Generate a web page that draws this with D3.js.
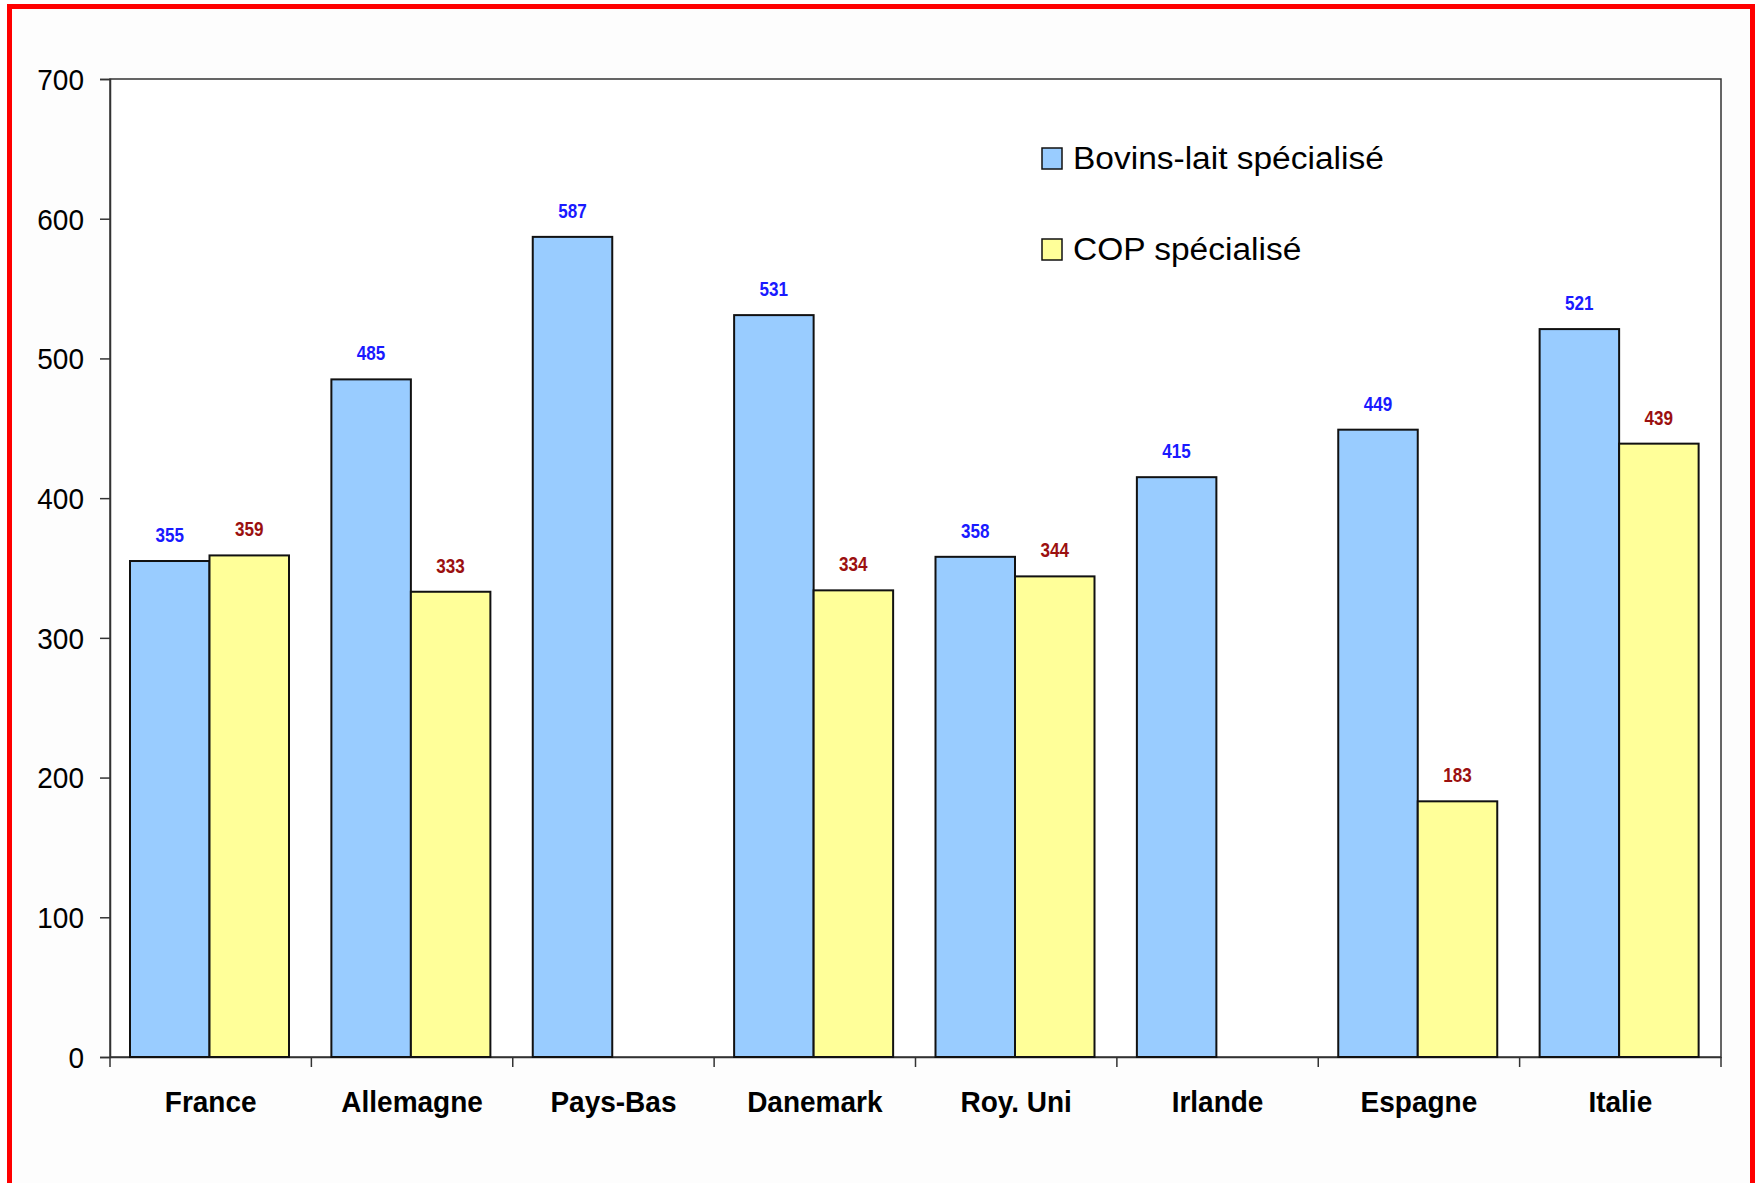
<!DOCTYPE html>
<html><head><meta charset="utf-8">
<script src="https://cdn.jsdelivr.net/npm/d3@7"></script>
<style>
html,body{margin:0;padding:0;background:#fff;}
svg{display:block;}
</style></head>
<body>
<svg id="chart" width="1759" height="1183"></svg>
<script>
const categories = ["France","Allemagne","Pays-Bas","Danemark","Roy. Uni","Irlande","Espagne","Italie"];
const seriesNames = ["Bovins-lait spécialisé","COP spécialisé"];
const bovinsLait = [355,485,587,531,358,415,449,521];
const copSpecialise = [359,333,null,334,344,null,183,439];
const yTicks = [0,100,200,300,400,500,600,700];

const fills = ["#99CCFF","#FFFF99"];
const labelColors = ["#1a1aff","#9b1010"];
const series = [bovinsLait, copSpecialise];

const svg = d3.select("#chart");
const W = 1759, H = 1183;
const font = "'Liberation Sans', Arial, sans-serif";

// background + red frame
svg.append("rect").attr("x",0).attr("y",0).attr("width",W).attr("height",H).attr("fill","#ffffff");
svg.append("rect").attr("x",9.5).attr("y",6.5).attr("width",1743).attr("height",1250)
  .attr("fill","#fdfdfd").attr("stroke","#ff0000").attr("stroke-width",5);

const plot = {left:110, right:1721, top:79, bottom:1057};

svg.append("rect").attr("x",plot.left).attr("y",plot.top)
  .attr("width",plot.right-plot.left).attr("height",plot.bottom-plot.top)
  .attr("fill","#ffffff").attr("stroke","#333").attr("stroke-width",1.5);

const x0 = d3.scaleBand().domain(categories).range([plot.left, plot.right]).padding(0);
const x1 = d3.scaleBand().domain([0,1]).range([20, 179]).padding(0);
const y = d3.scaleLinear().domain([0,700]).range([plot.bottom, plot.top]);

// Y axis
const yAxis = d3.axisLeft(y).tickValues(yTicks).tickSize(10).tickPadding(16).tickFormat(d3.format("d"));
const gy = svg.append("g").attr("transform",`translate(${plot.left},0)`).call(yAxis);
gy.select(".domain").attr("stroke","#333").attr("stroke-width",1.5);
gy.selectAll(".tick line").attr("stroke","#333").attr("stroke-width",1.5);
gy.selectAll(".tick text").attr("font-family",font).attr("font-size",28).attr("fill","#000")
  .attr("dy","0.34em").attr("transform","scale(1,1.08)");

// X axis
const xAxis = d3.axisBottom(x0).tickSize(0).tickFormat(d=>d);
const gx = svg.append("g").attr("transform",`translate(0,${plot.bottom})`).call(xAxis);
gx.select(".domain").attr("stroke","#333").attr("stroke-width",1.5);
gx.selectAll(".tick text").attr("font-family",font).attr("font-size",28).attr("font-weight","bold")
  .attr("fill","#000").attr("y",51).attr("dy",0).attr("transform","scale(1,1.08)");
// x tick marks at category boundaries
const bounds = categories.map(c=>x0(c)).concat([plot.right]);
svg.append("g").selectAll("line").data(bounds).join("line")
  .attr("x1",d=>d).attr("x2",d=>d).attr("y1",plot.bottom).attr("y2",plot.bottom+10)
  .attr("stroke","#333").attr("stroke-width",1.5);

// bars
const bars = svg.append("g");
series.forEach((vals, si) => {
  const data = categories.map((c,i)=>({c, v: vals[i]})).filter(d=>d.v!=null);
  bars.selectAll(null).data(data).join("rect")
    .attr("x", d=>x0(d.c)+x1(si))
    .attr("y", d=>y(d.v))
    .attr("width", x1.bandwidth())
    .attr("height", d=>y(0)-y(d.v))
    .attr("fill", fills[si]).attr("stroke","#111").attr("stroke-width",2);
  bars.selectAll(null).data(data).join("text")
    .attr("transform", d=>`translate(${x0(d.c)+x1(si)+x1.bandwidth()/2},${y(d.v)-19}) scale(0.95,1.15)`)
    .attr("text-anchor","middle")
    .attr("font-family",font).attr("font-size",18).attr("font-weight","bold")
    .attr("fill",labelColors[si])
    .text(d=>d.v);
});

// legend
const legendY = [169, 260];
const leg = svg.append("g");
seriesNames.forEach((name,i)=>{
  leg.append("rect").attr("x",1042).attr("y",legendY[i]-21).attr("width",20).attr("height",21)
    .attr("fill",fills[i]).attr("stroke","#111").attr("stroke-width",1.5);
  leg.append("text").attr("transform",`translate(1073,${legendY[i]}) scale(1,0.92)`)
    .attr("font-family",font).attr("font-size",33.5).attr("fill","#000").text(name);
});
</script>
</body></html>
